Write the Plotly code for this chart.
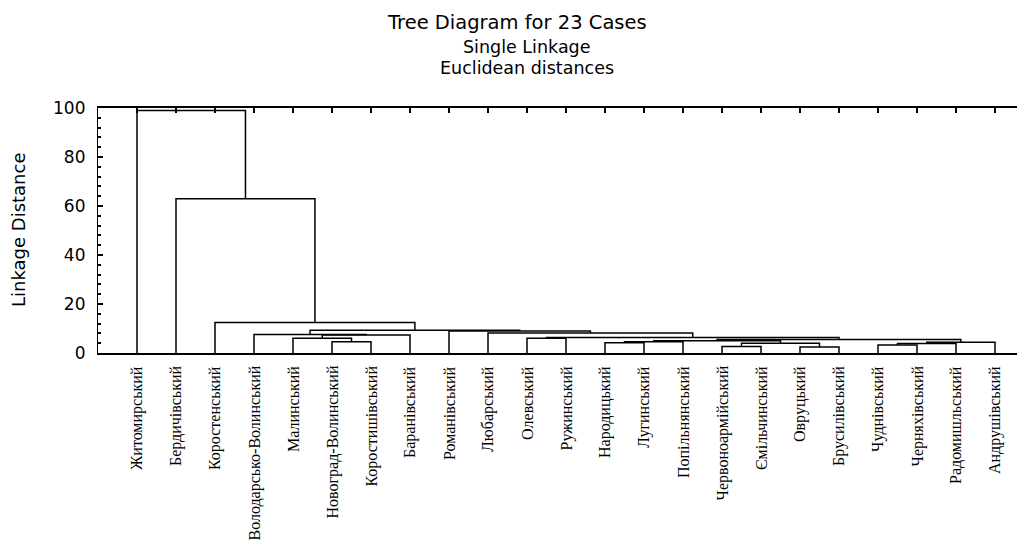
import plotly.graph_objects as go

# ---- data ----
case_names = ["Житомирський", "Бердичівський", "Коростенський", "Володарсько-Волинський",
              "Малинський", "Новоград-Волинський", "Коростишівський", "Баранівський",
              "Романівський", "Любарський", "Олевський", "Ружинський", "Народицький",
              "Лугинський", "Попільнянський", "Червоноармійський", "Ємільчинський",
              "Овруцький", "Брусилівський", "Чуднівський", "Черняхівський",
              "Радомишльський", "Андрушівський"]

# merges: (left node, right node); leaves are 0..22, merge k creates node 23+k
merge_left = [5, 4, 24, 3, 12, 27, 15, 17, 29, 28, 19, 33, 34, 32, 10, 37, 9, 8, 26, 2, 1, 0]
merge_right = [6, 23, 7, 25, 13, 14, 16, 18, 30, 31, 20, 21, 22, 35, 11, 36, 38, 39, 40, 41, 42, 43]
merge_height = [4.6, 6.0, 7.3, 7.6, 4.2, 4.6, 2.7, 2.4, 4.0, 5.0, 3.3, 3.9, 4.4, 5.5,
                6.0, 6.3, 8.2, 9.0, 9.3, 12.4, 63.0, 99.0]

y_tick_vals = [0, 20, 40, 60, 80, 100]

# ---- build dendrogram segments ----
n = len(case_names)
pos = {i: float(i) for i in range(n)}
hgt = {i: 0.0 for i in range(n)}
xs, ys = [], []
for k, (a, b, h) in enumerate(zip(merge_left, merge_right, merge_height)):
    node = n + k
    xa, xb = pos[a], pos[b]
    xs += [xa, xa, xb, xb, None]
    ys += [hgt[a], h, h, hgt[b], None]
    pos[node] = (xa + xb) / 2
    hgt[node] = h

fig = go.Figure()
fig.add_trace(go.Scatter(x=xs, y=ys, mode="lines",
                         line=dict(color="black", width=1.5),
                         hoverinfo="skip", showlegend=False))
fig.add_trace(go.Scatter(x=[0], y=[0], xaxis="x2", mode="markers",
                         marker=dict(opacity=0), hoverinfo="skip", showlegend=False))

# page has an 8px body margin: figure origin sits at (8, 8) of the window
OFF = 8
W, H = 1025 - OFF, 546 - OFF
ml, mr, mt, mb = 98 - OFF, 0, 108 - OFF, 546 - 353
pw, ph = W - ml - mr, H - mt - mb
left_units = (137 - 98) / 39.0
xr = [-left_units, (1025 - 137) / 39.0]

def px_x(p):
    return (p - OFF - ml) / pw

def px_y(p):
    return (353 - p) / ph

fig.update_layout(
    width=W, height=H,
    margin=dict(l=ml, r=mr, t=mt, b=mb),
    plot_bgcolor="white", paper_bgcolor="white",
    showlegend=False,
    xaxis=dict(range=xr, showgrid=False, zeroline=False, showline=True,
               linecolor="black", linewidth=1.5, ticks="", showticklabels=False),
    xaxis2=dict(range=xr, overlaying="x", side="top", showgrid=False, zeroline=False,
                showline=True, linecolor="black", linewidth=2,
                tickvals=list(range(n)), ticks="inside", ticklen=5, tickwidth=1.5,
                tickcolor="black", showticklabels=False),
    yaxis=dict(range=[0, 100], showgrid=False, zeroline=False, showline=True,
               linecolor="black", linewidth=1.2, tickvals=y_tick_vals,
               ticks="inside", ticklen=5, tickwidth=1.5, tickcolor="black",
               minor=dict(dtick=4, tick0=0, ticks="inside", ticklen=3, tickcolor="black"),
               tickfont=dict(family="DejaVu Sans", size=17, color="black"),
               ticklabelstandoff=8),
)

ann = []
for i, name in enumerate(case_names):
    ann.append(dict(x=i, xref="x", y=0, yref="paper", yshift=-11, text=name,
                    textangle=-90, xanchor="center", yanchor="top", showarrow=False,
                    font=dict(family="Liberation Serif", size=16, color="black")))
ann.append(dict(x=px_x(517), y=px_y(22), xref="paper", yref="paper",
                xanchor="center", yanchor="middle",
                text="Tree Diagram for 23 Cases", showarrow=False,
                font=dict(family="DejaVu Sans", size=19.5, color="black")))
ann.append(dict(x=px_x(527), y=px_y(47), xref="paper", yref="paper",
                xanchor="center", yanchor="middle",
                text="Single Linkage", showarrow=False,
                font=dict(family="DejaVu Sans", size=17.5, color="black")))
ann.append(dict(x=px_x(527), y=px_y(68), xref="paper", yref="paper",
                xanchor="center", yanchor="middle",
                text="Euclidean distances", showarrow=False,
                font=dict(family="DejaVu Sans", size=17.5, color="black")))
ann.append(dict(x=px_x(18), y=px_y(230), xref="paper", yref="paper",
                xanchor="center", yanchor="middle",
                text="Linkage Distance", textangle=-90, showarrow=False,
                font=dict(family="DejaVu Sans", size=18, color="black")))
fig.update_layout(annotations=ann)

fig.write_html("out.html")
